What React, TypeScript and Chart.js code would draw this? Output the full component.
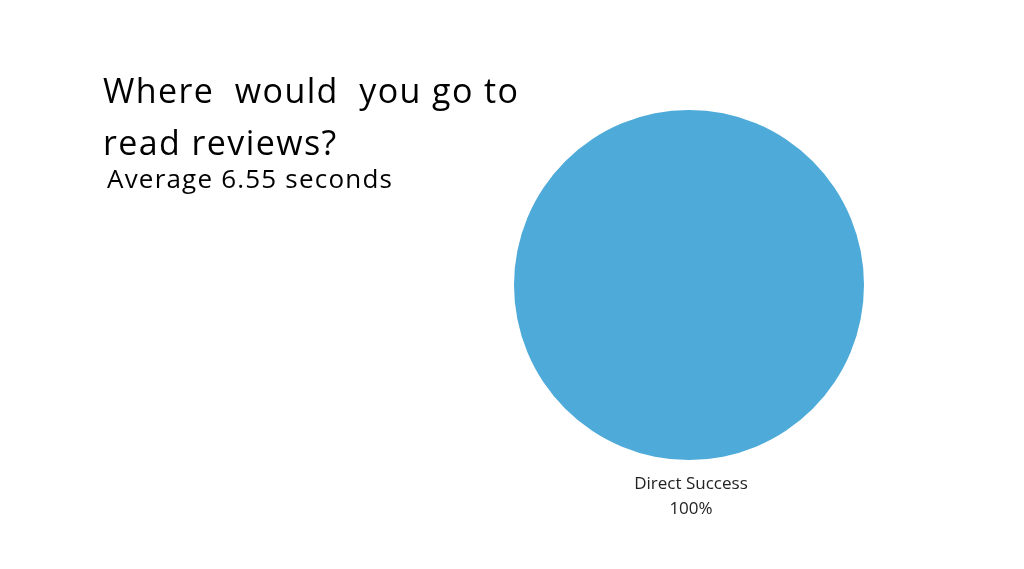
import React, { useEffect, useRef } from "react";
import { Chart, registerables } from "chart.js";

Chart.register(...registerables);

const categories = ["Direct Success"];
const values = [100];
const percentLabels = ["100%"];
const sliceColors = ["#4DAAD9"];

const titleLines = ["Where  would  you go to", "read reviews?"];
const subtitle = "Average 6.55 seconds";

const labelPlugin = {
  id: "belowLabels",
  afterDatasetsDraw(chart: any) {
    const ctx = chart.ctx;
    const meta = chart.getDatasetMeta(0);
    meta.data.forEach((arc: any, i: number) => {
      const { x, y, outerRadius } = arc.getProps(["x", "y", "outerRadius"], true);
      ctx.save();
      ctx.fillStyle = "#222222";
      ctx.font = "17px 'Open Sans'";
      ctx.textAlign = "center";
      ctx.textBaseline = "middle";
      ctx.fillText(categories[i], x + 2, y + outerRadius + 24);
      ctx.fillText(percentLabels[i], x + 2, y + outerRadius + 49);
      ctx.restore();
    });
  },
};

export default function App() {
  const canvasRef = useRef<HTMLCanvasElement | null>(null);

  useEffect(() => {
    document.body.style.margin = "0";
    const canvas = canvasRef.current;
    if (!canvas) return;
    const chart = new Chart(canvas, {
      type: "pie",
      data: {
        labels: categories,
        datasets: [
          {
            data: values,
            backgroundColor: sliceColors,
            borderWidth: 0,
          },
        ],
      },
      options: {
        animation: false,
        responsive: false,
        maintainAspectRatio: false,
        layout: { padding: { left: 514, right: 160, top: 110, bottom: 109 } },
        plugins: {
          legend: { display: false },
          tooltip: { enabled: false },
          title: { display: false },
        },
      },
      plugins: [labelPlugin],
    });
    return () => chart.destroy();
  }, []);

  return (
    <div style={{ position: "relative", width: 1024, height: 569, background: "#fff", overflow: "hidden" }}>
      <canvas ref={canvasRef} width={1024} height={569} style={{ position: "absolute", left: 0, top: 0 }} />
      <div
        style={{
          position: "absolute",
          left: 103,
          top: 64,
          fontFamily: "'Open Sans'",
          fontSize: 34,
          lineHeight: "52px",
          letterSpacing: "1.4px",
          color: "#000",
          whiteSpace: "pre",
        }}
      >
        {titleLines.map((l, i) => (
          <div key={i}>{l}</div>
        ))}
      </div>
      <div
        style={{
          position: "absolute",
          left: 107,
          top: 162,
          fontFamily: "'Open Sans'",
          fontSize: 26,
          lineHeight: "32px",
          letterSpacing: "1.2px",
          color: "#000",
          whiteSpace: "pre",
        }}
      >
        {subtitle}
      </div>
    </div>
  );
}
